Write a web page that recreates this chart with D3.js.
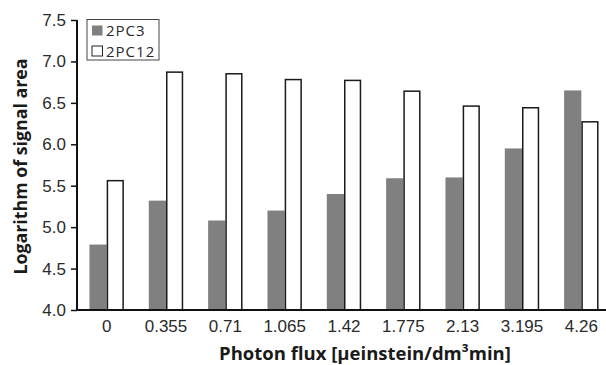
<!DOCTYPE html>
<html>
<head>
<meta charset="utf-8">
<script src="https://cdn.jsdelivr.net/npm/d3@7"></script>
<style>
  html, body { margin: 0; padding: 0; background: #fff; }
  svg { display: block; font-family: "Open Sans", "Noto Sans", sans-serif; }
</style>
</head>
<body>
<svg id="chart" width="606" height="365"></svg>
<script>
// Photon flux levels (x categories)
const categories = ["0", "0.355", "0.71", "1.065", "1.42", "1.775", "2.13", "3.195", "4.26"];
// Logarithm of signal area per series
const series = ["2PC3", "2PC12"];
const values2PC3  = [4.79, 5.32, 5.08, 5.20, 5.40, 5.59, 5.60, 5.95, 6.65];
const values2PC12 = [5.57, 6.88, 6.86, 6.79, 6.78, 6.65, 6.47, 6.45, 6.28];
const yTicks = [4.0, 4.5, 5.0, 5.5, 6.0, 6.5, 7.0, 7.5];

const W = 606, H = 365;
const margin = { left: 77, right: -5, top: 20, bottom: 55 };
const svg = d3.select("#chart");

const rows = categories.map((c, i) => ({ cat: c, v: [values2PC3[i], values2PC12[i]] }));

const x = d3.scaleBand().domain(categories)
  .range([margin.left, W - margin.right]).paddingInner(0.42).paddingOuter(0.21);
const xs = d3.scaleBand().domain(series).range([0, x.bandwidth()]);
const y = d3.scaleLinear().domain([4.0, 7.5]).range([H - margin.bottom, margin.top]);

const fills = { "2PC3": "#808080", "2PC12": "#ffffff" };

// bars
const g = svg.append("g");
rows.forEach(r => {
  series.forEach((s, k) => {
    const val = r.v[k];
    const isWhite = s === "2PC12";
    g.append("rect")
      .attr("x", x(r.cat) + xs(s) + (isWhite ? 0.75 : 0))
      .attr("y", y(val) + (isWhite ? 0.75 : 0))
      .attr("width", xs.bandwidth() - (isWhite ? 1.5 : 0))
      .attr("height", y(4.0) - y(val) - (isWhite ? 0.75 : 0))
      .attr("fill", fills[s])
      .attr("stroke", isWhite ? "#1a1a1a" : "none")
      .attr("stroke-width", isWhite ? 1.5 : 0);
  });
});

// y axis
const yAxis = d3.axisLeft(y).tickValues(yTicks).tickFormat(d3.format(".1f"))
  .tickSize(6).tickPadding(5);
const ya = svg.append("g").attr("transform", `translate(${margin.left},0)`).call(yAxis);
ya.select(".domain").attr("stroke", "#111").attr("stroke-width", 2).attr("d", `M0,${y(7.5)}V${y(4.0)}`);
ya.selectAll(".tick line").attr("stroke", "#111").attr("stroke-width", 1.5);
ya.selectAll(".tick text").attr("fill", "#2a2a2a").style("font-size", "17px");

// x axis
const xAxis = d3.axisBottom(x).tickSize(0).tickPadding(10);
const xa = svg.append("g").attr("transform", `translate(0,${y(4.0)})`).call(xAxis);
xa.select(".domain").attr("stroke", "#111").attr("stroke-width", 2)
  .attr("d", `M${margin.left},0H${W}`);
xa.selectAll(".tick text").attr("fill", "#2a2a2a").style("font-size", "17px");

// axis titles
svg.append("text")
  .attr("x", 365).attr("y", 360)
  .attr("text-anchor", "middle")
  .attr("font-weight", "bold").attr("font-size", 18.5).attr("fill", "#1a1a1a")
  .text("Photon flux [μeinstein/dm³min]");

svg.append("text")
  .attr("transform", `translate(27,166.5) rotate(-90)`)
  .attr("text-anchor", "middle")
  .attr("font-weight", "bold").attr("font-size", 17.8).attr("fill", "#1a1a1a")
  .text("Logarithm of signal area");

// legend
const lg = svg.append("g");
lg.append("rect").attr("x", 87).attr("y", 19.5).attr("width", 72).attr("height", 40.5)
  .attr("fill", "#fff").attr("stroke", "#444").attr("stroke-width", 1);
series.forEach((s, i) => {
  const yy = 25.5 + i * 20.5;
  lg.append("rect").attr("x", 92).attr("y", yy).attr("width", 10.5).attr("height", 10)
    .attr("fill", fills[s]).attr("stroke", s === "2PC12" ? "#222" : "none").attr("stroke-width", 1);
  lg.append("text").attr("x", 106).attr("y", yy + 10.5)
    .attr("font-size", 15).attr("letter-spacing", 1).attr("fill", "#2a2a2a").text(s);
});
</script>
</body>
</html>
